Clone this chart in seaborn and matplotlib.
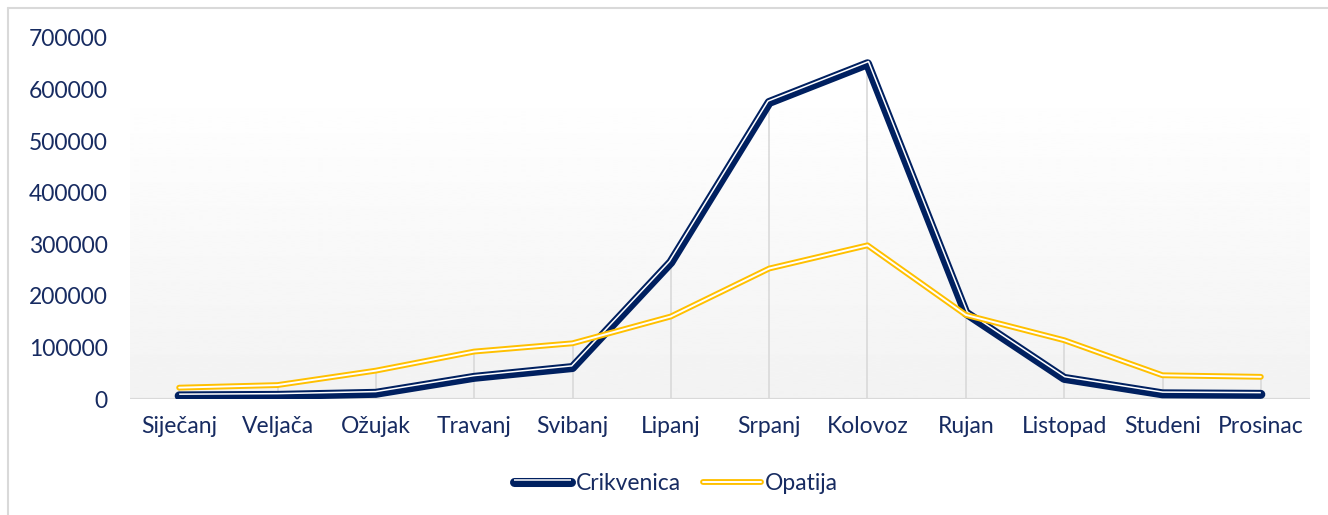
import numpy as np
import pandas as pd
import matplotlib
matplotlib.use("Agg")
import matplotlib.pyplot as plt
import matplotlib.patheffects as pe
from matplotlib.path import Path
from matplotlib.transforms import Affine2D
from matplotlib.lines import Line2D
import seaborn as sns

months = ["Siječanj", "Veljača", "Ožujak", "Travanj", "Svibanj", "Lipanj",
          "Srpanj", "Kolovoz", "Rujan", "Listopad", "Studeni", "Prosinac"]
crikvenica = [6000, 7000, 11000, 42000, 61000, 265000, 575000, 650000, 167000, 40000, 10000, 9000]
opatija = [22000, 27000, 55000, 92000, 108000, 160000, 253000, 298000, 163000, 114000, 46000, 43000]
yticks = [0, 100000, 200000, 300000, 400000, 500000, 600000, 700000]

NAVY = "#002060"
GOLD = "#FFC000"
TEXT = "#172B61"
GRID = "#D9D9D9"


class OffsetStroke(pe.AbstractPathEffect):
    """stroke drawn parallel to the path, shifted sideways (thin-thick line)"""
    def __init__(self, shift, **kwargs):
        super().__init__()
        self._shift = shift
        self._gc = kwargs

    def draw_path(self, renderer, gc, tpath, affine, rgbFace=None):
        pts = affine.transform(tpath.vertices)
        d = renderer.points_to_pixels(self._shift)
        seg = np.diff(pts, axis=0)
        nrm = np.column_stack([-seg[:, 1], seg[:, 0]])
        nrm /= np.hypot(nrm[:, 0], nrm[:, 1])[:, None]
        out = pts.copy()
        out[0] += d * nrm[0]
        out[-1] += d * nrm[-1]
        for i in range(1, len(pts) - 1):
            m = nrm[i - 1] + nrm[i]
            m /= np.linalg.norm(m)
            out[i] += m * d / np.dot(m, nrm[i - 1])
        gc0 = renderer.new_gc()
        gc0.copy_properties(gc)
        gc0 = self._update_gc(gc0, self._gc)
        renderer.draw_path(gc0, Path(out), Affine2D(), rgbFace)
        gc0.restore()


sns.set_style("white")
plt.rcParams["font.family"] = ["Lato", "DejaVu Sans"]

df = pd.DataFrame({
    "mjesec": months * 2,
    "noćenja": crikvenica + opatija,
    "grad": ["Crikvenica"] * 12 + ["Opatija"] * 12,
})

fig = plt.figure(figsize=(13.28, 5.15), dpi=100)
ax = fig.add_axes([130 / 1328, 116 / 515, 1180 / 1328, 361 / 515])
ax.patch.set_alpha(0)

crik_fx = [pe.Normal(), OffsetStroke(1.25, linewidth=1.1, foreground="white", capstyle="butt")]
opa_fx = [pe.Normal(), pe.Stroke(linewidth=1.4, foreground="white")]

sns.lineplot(data=df[df["grad"] == "Crikvenica"], x="mjesec", y="noćenja", sort=False,
             color=NAVY, linewidth=6.5, ax=ax, zorder=3, legend=False)
sns.lineplot(data=df[df["grad"] == "Opatija"], x="mjesec", y="noćenja", sort=False,
             color=GOLD, linewidth=4.2, ax=ax, zorder=4, legend=False)
for line, fx in zip(ax.lines, [crik_fx, opa_fx]):
    line.set_solid_capstyle("round")
    line.set_solid_joinstyle("round")
    line.set_path_effects(fx)

# background gradient of the plot area
grad = np.linspace(0.95, 1.0, 256).reshape(-1, 1)
ax.imshow(grad, extent=[-0.5, 11.5, 0, 610000], origin="lower", aspect="auto",
          cmap="gray", vmin=0, vmax=1, zorder=0, interpolation="bilinear")

# drop lines and baseline
pos = np.arange(len(months))
ax.vlines(pos, 0, np.maximum(crikvenica, opatija), color=GRID, linewidth=1.2, zorder=1)
ax.axhline(0, color=GRID, linewidth=1.6, zorder=1.5)

ax.set_xlim(-0.5, 11.5)
ax.set_ylim(0, 700000)
ax.set_yticks(yticks)
ax.set_yticklabels([str(v) for v in yticks])
ax.set_xlabel("")
ax.set_ylabel("")
ax.tick_params(axis="x", length=0, pad=12, labelsize=16.5, labelcolor=TEXT)
ax.tick_params(axis="y", length=0, pad=16, labelsize=16.5, labelcolor=TEXT)
sns.despine(ax=ax, left=True, bottom=True)

handles = [
    Line2D([], [], color=NAVY, linewidth=6.5, solid_capstyle="round", path_effects=crik_fx),
    Line2D([], [], color=GOLD, linewidth=4.2, solid_capstyle="round", path_effects=opa_fx),
]
fig.legend(handles, ["Crikvenica", "Opatija"], loc="center", bbox_to_anchor=(0.509, 0.062),
           ncol=2, frameon=False, fontsize=16.5, labelcolor=TEXT, handlelength=2.5,
           handletextpad=0.2, columnspacing=1.0)

# chart frame edges
fig.add_artist(Line2D([8 / 1328, 8 / 1328], [0, 1 - 8 / 515], transform=fig.transFigure,
                      color=GRID, linewidth=1.5))
fig.add_artist(Line2D([8 / 1328, 1], [1 - 8 / 515, 1 - 8 / 515], transform=fig.transFigure,
                      color=GRID, linewidth=1.5))

fig.savefig("out.png", dpi=100)
